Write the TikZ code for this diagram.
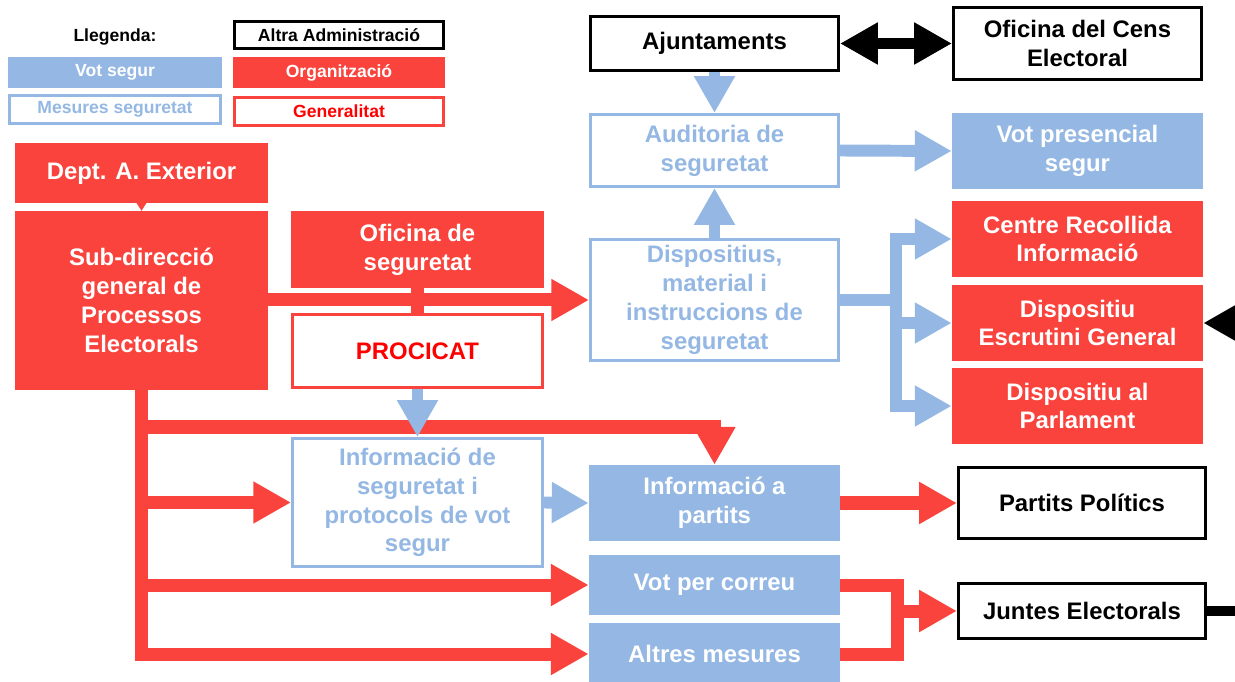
\documentclass[tikz,border=0pt]{standalone}
\usepackage{fontspec}
\setmainfont{Liberation Sans}
\usepackage{xcolor}
\usepackage{tikz}
\usetikzlibrary{arrows.meta}

\definecolor{orgred}{RGB}{249,67,60}
\definecolor{votblue}{RGB}{148,184,227}
\definecolor{genred}{RGB}{255,0,0}

\begin{document}
\begin{tikzpicture}[x=0.02cm, y=-0.02cm, line join=miter, % 1 unit = 1 px of the layout
			block/.style={
					rectangle,
					align=center,
					inner sep=0pt,
					font=\fontsize{13.6}{16.4}\selectfont\bfseries
				},
			org/.style={block, fill=orgred, text=white},
			gen/.style={block, draw=orgred, line width=1.7pt, fill=white, text=genred},
			vot/.style={block, fill=votblue, text=white},
			mes/.style={block, draw=votblue, line width=1.7pt, fill=white, text=votblue},
			alt/.style={block, draw=black, line width=1.8pt, fill=white, text=black},
			legend/.style={font=\fontsize{10}{12}\selectfont\bfseries},
			redline/.style={draw=orgred, line width=7.4pt, -{Triangle[width=22.5pt,length=21.5pt]}},
			redbar/.style={draw=orgred, line width=7.4pt},
			blueline/.style={draw=votblue, line width=6.8pt, -{Triangle[width=22pt,length=21pt]}},
			bluebar/.style={draw=votblue, line width=6.8pt},
			blackline/.style={draw=black, line width=5.7pt, -{Triangle[width=22.5pt,length=21.5pt]}},
			blackbar/.style={draw=black, line width=5.5pt}
		]
		\useasboundingbox (0,0) rectangle (1235,682);
		% Legend
		\node [legend] (lleg) at (115,37) {Llegenda:};
		\node [alt, legend, minimum width=4.18cm, minimum height=0.54cm] (legalt) at (339,35) {Altra Administració};
		\node [vot, legend, minimum width=4.28cm, minimum height=0.62cm] (legvot) at (115,72.5) {Vot segur};
		\node [org, legend, minimum width=4.24cm, minimum height=0.62cm] (legorg) at (339,72.5) {Organització};
		\node [mes, legend, line width=1.3pt, minimum width=4.22cm, minimum height=0.56cm] (legmes) at (115,109.5) {Mesures seguretat};
		\node [gen, legend, minimum width=4.18cm, minimum height=0.56cm] (leggen) at (339,111.5) {Generalitat};
		% Place nodes
		\node [org, minimum width=5.06cm, minimum height=1.2cm] (dept) at (141.5,173) {Dept. A. Exterior};
		\node [org, minimum width=5.06cm, minimum height=3.58cm] (subdir) at (141.5,300.5) {Sub-direcció\\general de\\Processos\\Electorals};
		\node [org, minimum width=5.06cm, minimum height=1.54cm] (oficina) at (417.5,249.5) {Oficina de\\seguretat};
		\node [gen, minimum width=5.0cm, minimum height=1.46cm] (procicat) at (417.5,351) {PROCICAT};
		\node [mes, minimum width=4.96cm, minimum height=2.44cm] (dispositius) at (714.5,300) {Dispositius,\\material i\\instruccions de\\seguretat};
		\node [mes, minimum width=4.96cm, minimum height=1.44cm] (auditoria) at (714.5,150.5) {Auditoria de\\seguretat};
		\node [alt, minimum width=4.96cm, minimum height=1.08cm] (ajunt) at (714.5,43.5) {Ajuntaments};
		\node [alt, minimum width=4.96cm, minimum height=1.44cm] (cens) at (1077.5,43.5) {Oficina del Cens\\Electoral};
		\node [vot, minimum width=5.02cm, minimum height=1.52cm] (presencial) at (1077.5,151) {Vot presencial\\segur};
		\node [org, minimum width=5.02cm, minimum height=1.52cm] (centre) at (1077.5,239) {Centre Recollida\\Informació};
		\node [org, minimum width=5.02cm, minimum height=1.52cm] (escrutini) at (1077.5,323) {Dispositiu\\Escrutini General};
		\node [org, minimum width=5.02cm, minimum height=1.52cm] (parlament) at (1077.5,406) {Dispositiu al\\Parlament};
		\node [mes, minimum width=5.0cm, minimum height=2.56cm] (infoseg) at (417.5,502.5) {Informació de\\seguretat i\\protocols de vot\\segur};
		\node [vot, minimum width=5.02cm, minimum height=1.52cm] (infopart) at (714.5,503) {Informació a\\partits};
		\node [alt, minimum width=4.94cm, minimum height=1.42cm] (partits) at (1082,503) {Partits Polítics};
		\node [vot, minimum width=5.02cm, minimum height=1.2cm] (correu) at (714.5,585) {Vot per correu};
		\node [vot, minimum width=5.02cm, minimum height=1.24cm] (altres) at (714.5,654) {Altres mesures};
		\node [alt, minimum width=4.94cm, minimum height=1.1cm] (juntes) at (1082,611) {Juntes Electorals};
		% Bends and loose ends
		\coordinate (kneeP) at (721,427);
		\coordinate (kneeD) at (896,300);
		\coordinate (kneeJ) at (897,611);
		\coordinate (offR) at (1265,323);
		\coordinate (offJ) at (1265,611);
		% Draw edges
		\path [draw=orgred, line width=0.1pt, -{Triangle[width=5.7pt,length=4.5pt]}] (dept.south) -- (subdir.north);
		\path [redbar] (subdir.south) |- (kneeP);
		\path [redline] (infopart.north |- kneeP) -- (infopart.north);
		\path [redline] (subdir.south) |- (infoseg.west);
		\path [redline] (subdir.south) |- (correu.west);
		\path [redline] (subdir.south) |- (altres.west);
		\path [redline] (subdir.east |- dispositius.west) -- (dispositius.west);
		\path [redbar] (oficina.south) -- (procicat.north);
		\path [blueline] (procicat.south) -- (infoseg.north);
		\path [blueline] (infoseg.east) -- (infopart.west);
		\path [redline] (infopart.east) -- (partits.west);
		\path [redbar] (correu.east) -| (kneeJ) |- (altres.east);
		\path [redline] (kneeJ) -- (juntes.west);
		\path [blackbar] (juntes.east) -- (offJ);
		\path [blueline] (ajunt.south) -- (auditoria.north);
		\path [blueline] (dispositius.north) -- (auditoria.south);
		\path [blueline] (auditoria.east) -- (presencial.west);
		\path [blackline, {Triangle[width=22.5pt,length=21.5pt]}-{Triangle[width=22.5pt,length=21.5pt]}] (ajunt.east) -- (cens.west);
		\path [bluebar] (dispositius.east) -- (kneeD);
		\path [bluebar, line cap=rect] (kneeD |- centre.west) -- (kneeD |- parlament.west);
		\path [blueline] (kneeD |- centre.west) -- (centre.west);
		\path [blueline] (kneeD |- escrutini.west) -- (escrutini.west);
		\path [blueline] (kneeD |- parlament.west) -- (parlament.west);
		\path [blackline] (offR) -- (escrutini.east);
	\end{tikzpicture}
\end{document}
